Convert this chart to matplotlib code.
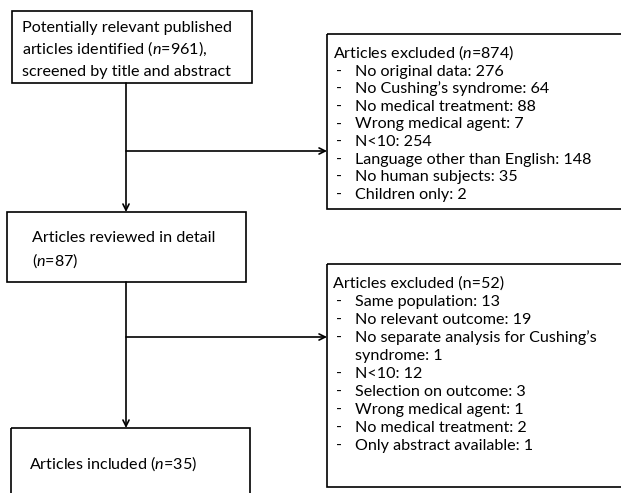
import matplotlib.pyplot as plt
from matplotlib.patches import Rectangle

plt.rcParams['font.family'] = ['Lato', 'DejaVu Sans']
plt.rcParams['mathtext.fontset'] = 'custom'
plt.rcParams['mathtext.rm'] = 'Lato'
plt.rcParams['mathtext.it'] = 'Lato:italic'

# flow chart texts
box1_lines = ["Potentially relevant published",
              r"articles identified ($\mathit{n}$=961),",
              "screened by title and abstract"]
box3_lines = ["Articles reviewed in detail", r"($\mathit{n}$=87)"]
box5_lines = [r"Articles included ($\mathit{n}$=35)"]

excl1_title = r"Articles excluded ($\mathit{n}$=874)"
excl1_items = ["No original data: 276",
               "No Cushing\u2019s syndrome: 64",
               "No medical treatment: 88",
               "Wrong medical agent: 7",
               "N<10: 254",
               "Language other than English: 148",
               "No human subjects: 35",
               "Children only: 2"]

excl2_title = "Articles excluded (n=52)"
excl2_items = ["Same population: 13",
               "No relevant outcome: 19",
               "No separate analysis for Cushing\u2019s\nsyndrome: 1",
               "N<10: 12",
               "Selection on outcome: 3",
               "Wrong medical agent: 1",
               "No medical treatment: 2",
               "Only abstract available: 1"]

W, H = 621, 493
fig = plt.figure(figsize=(W / 100, H / 100), dpi=100)
ax = fig.add_axes([0, 0, 1, 1])
ax.set_xlim(0, W)
ax.set_ylim(H, 0)
ax.axis('off')

fs = 11.6
lw = 1.2


def box(x0, y0, x1, y1):
    ax.add_patch(Rectangle((x0, y0), x1 - x0, y1 - y0, fill=False,
                           edgecolor='black', lw=lw, clip_on=True))


def arrow(x0, y0, x1, y1):
    ax.annotate("", xy=(x1, y1), xytext=(x0, y0),
                arrowprops=dict(arrowstyle='->', lw=lw, color='black',
                                shrinkA=0, shrinkB=0, mutation_scale=11))


# left column boxes
box(12, 11, 252, 83)
for i, t in enumerate(box1_lines):
    ax.text(22, 32 + i * 22, t, fontsize=fs, va='baseline')

box(7, 212, 246, 282)
for i, t in enumerate(box3_lines):
    ax.text(32, 242 + i * 24, t, fontsize=fs, va='baseline')

box(11, 428, 250, 500)
ax.text(29, 469, box5_lines[0], fontsize=fs, va='baseline')

# right column boxes (cut at the right edge)
box(327, 34, 640, 209)
ax.text(333, 58, excl1_title, fontsize=fs, va='baseline')
for i, t in enumerate(excl1_items):
    y = 58 + (i + 1) * 17.6
    ax.text(336, y, "-", fontsize=fs, va='baseline')
    ax.text(355, y, t, fontsize=fs, va='baseline')

box(327, 264, 640, 487)
ax.text(333, 288, excl2_title, fontsize=fs, va='baseline')
row = 1
for t in excl2_items:
    y = 288 + row * 18
    ax.text(336, y, "-", fontsize=fs, va='baseline')
    for j, part in enumerate(t.split("\n")):
        ax.text(355, y + j * 18, part, fontsize=fs, va='baseline')
    row += len(t.split("\n"))

# connectors
arrow(126, 83, 126, 212)
arrow(126, 151, 327, 151)
arrow(126, 282, 126, 428)
arrow(126, 337, 327, 337)

fig.savefig("out.png", dpi=100)
